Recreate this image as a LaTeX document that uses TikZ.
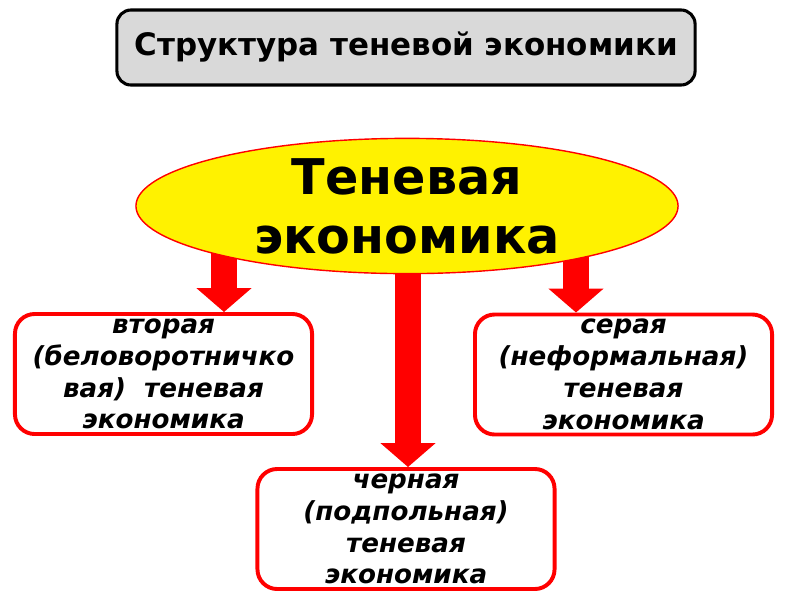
\documentclass[tikz,border=0pt]{standalone}
\usepackage{fontspec}
\setmainfont{DejaVu Sans}
\usepackage{tikz}
\usetikzlibrary{arrows.meta, shapes.geometric, positioning}

\definecolor{titlegray}{RGB}{217,217,217}

\begin{document}
\begin{tikzpicture}[x=0.025cm, y=-0.025cm,
    titlebox/.style={draw=black, line width=2.2pt, fill=titlegray, rounded corners=10pt,
        minimum width=14.45cm, minimum height=1.875cm, font=\bfseries\fontsize{22}{26}\selectfont},
    kindbox/.style={draw=red, line width=2.8pt, fill=white, rounded corners=14pt, align=center,
        minimum width=7.425cm, minimum height=3cm, inner sep=0pt,
        font=\bfseries\itshape\fontsize{18.6}{22.6}\selectfont},
    bigarrow/.style={red, line width=0.67cm, -{Triangle[length=0.6cm, width=1.35cm]}}]
    \useasboundingbox (0,0) rectangle (800,600);

    % Title
    \node[titlebox] (title) at (406,47.5) {Структура теневой экономики};

    % The three kinds
    \node[kindbox] (second) at (163.5,374) {вторая\\(беловоротничко\\вая)\ \ теневая\\экономика};
    \node[kindbox] (grey) at (623.5,374.5) {серая\\(неформальная)\\теневая\\экономика};
    \node[kindbox] (black) at (406,529) {черная\\(подпольная)\\теневая\\экономика};

    % Arrows from the ellipse down to the boxes
    \coordinate (lfoot) at (224,220);
    \coordinate (mfoot) at (408,220);
    \coordinate (rfoot) at (576,220);
    \draw[bigarrow] (lfoot) -- (lfoot |- second.north);
    \draw[bigarrow] (rfoot) -- (rfoot |- grey.north);
    \draw[bigarrow] (mfoot) -- (mfoot |- black.north);

    % Main ellipse
    \node[ellipse, draw=red, line width=1pt, fill=yellow, minimum width=13.55cm,
        minimum height=3.15cm, inner sep=0pt, align=center,
        font=\bfseries\fontsize{35}{42}\selectfont] (shadow) at (407,206) {Теневая\\экономика};
\end{tikzpicture}
\end{document}
